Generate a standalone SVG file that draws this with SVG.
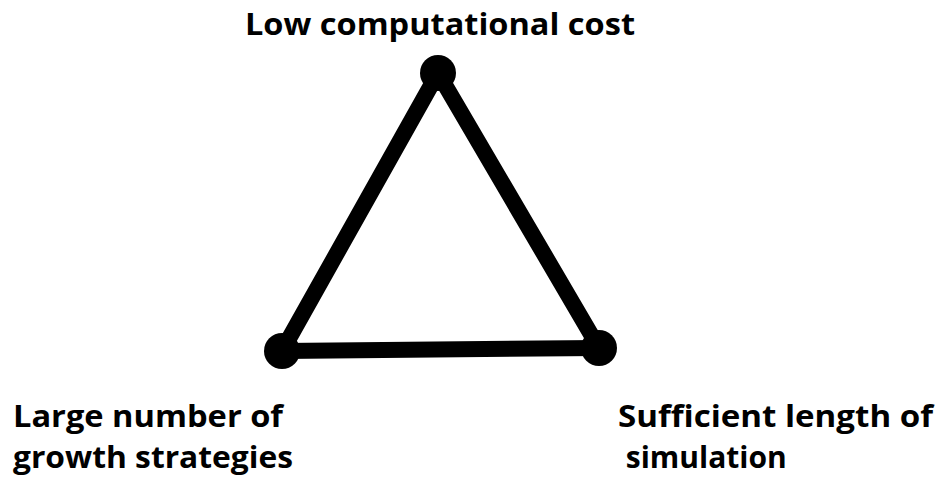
<svg xmlns="http://www.w3.org/2000/svg" width="939" height="486" viewBox="0 0 939 486">
<style>
.lbl{font-family:"Open Sans","Noto Sans","Liberation Sans",sans-serif;font-weight:bold;font-size:30px;fill:#000}
.edge{stroke:#000;stroke-width:16;fill:none;stroke-linecap:round}
.dot{fill:#000}
</style>
<rect width="939" height="486" fill="#fff"/>
<g id="connectors">
<line class="edge" x1="438" y1="73" x2="282" y2="351"/>
<line class="edge" x1="438" y1="73" x2="599" y2="348"/>
<line class="edge" x1="282" y1="351" x2="599" y2="348"/>
</g>
<g id="node-top">
<circle class="dot" cx="438" cy="73" r="18"/>
<text class="lbl" x="245" y="35" textLength="390" lengthAdjust="spacingAndGlyphs">Low computational cost</text>
</g>
<g id="node-left">
<circle class="dot" cx="282" cy="351" r="18"/>
<text class="lbl" x="13" y="427" textLength="270" lengthAdjust="spacingAndGlyphs">Large number of</text>
<text class="lbl" x="13" y="468" textLength="280" lengthAdjust="spacingAndGlyphs">growth strategies</text>
</g>
<g id="node-right">
<circle class="dot" cx="599" cy="348" r="18"/>
<text class="lbl" x="618" y="427" textLength="315" lengthAdjust="spacingAndGlyphs">Sufficient length of</text>
<text class="lbl" x="618" y="468" xml:space="preserve"> simulation</text>
</g>
</svg>
